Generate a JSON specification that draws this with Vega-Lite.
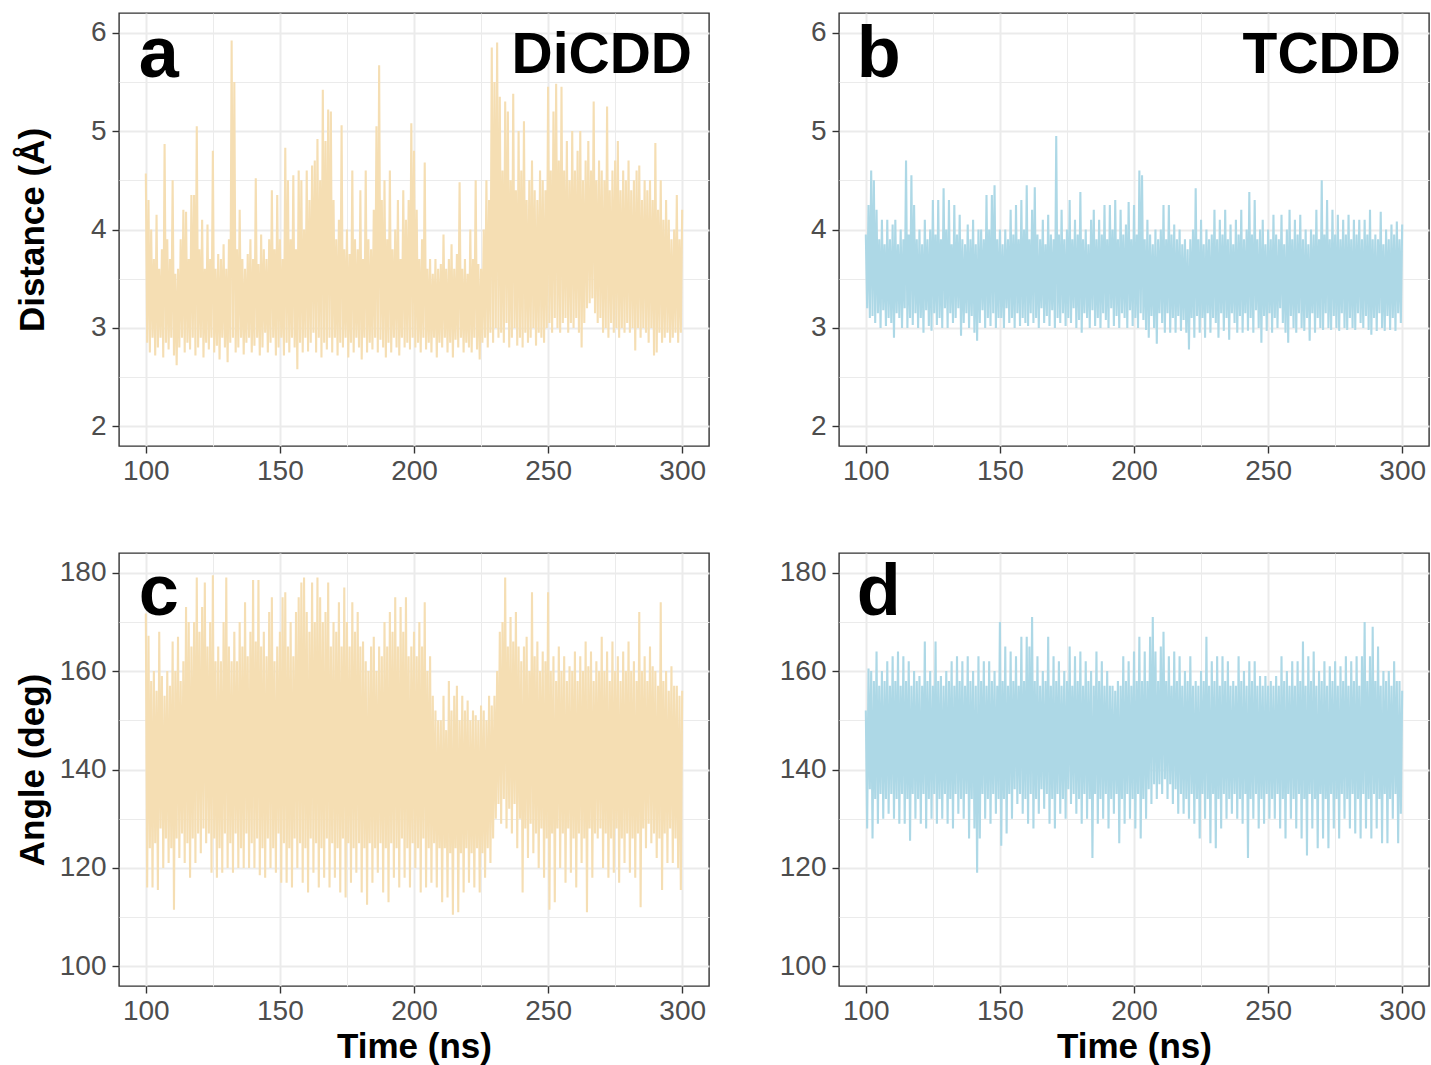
{
"$schema":"https://vega.github.io/schema/vega-lite/v6.json",
"background":"white",
"padding":{"left":14,"top":12,"right":4,"bottom":4},
"data":{"values":[
{"t":100,"a":4.57,"b":3.95,"c":171.7,"d":152},{"t":100.5,"a":2.85,"b":3.2,"c":116,"d":128},
{"t":101,"a":4.3,"b":4.25,"c":167.2,"d":160.5},{"t":101.5,"a":2.75,"b":3.1,"c":124,"d":136},
{"t":102,"a":4.0,"b":4.6,"c":158,"d":160},{"t":102.5,"a":2.9,"b":3.12,"c":116,"d":126},
{"t":103,"a":3.7,"b":4.5,"c":160,"d":158},{"t":103.5,"a":2.72,"b":3.05,"c":125,"d":134},
{"t":104,"a":4.15,"b":4.2,"c":156,"d":164},{"t":104.5,"a":2.8,"b":3.15,"c":115.5,"d":129},
{"t":105,"a":3.6,"b":3.9,"c":168,"d":157},{"t":105.5,"a":2.9,"b":3.0,"c":128,"d":135},
{"t":106,"a":3.8,"b":4.1,"c":159,"d":160},{"t":106.5,"a":2.7,"b":3.18,"c":120,"d":130},
{"t":107,"a":4.87,"b":3.85,"c":155,"d":158},{"t":107.5,"a":2.85,"b":3.02,"c":126,"d":134},
{"t":108,"a":3.9,"b":4.1,"c":160,"d":162},{"t":108.5,"a":2.78,"b":3.1,"c":121,"d":131},
{"t":109,"a":3.7,"b":3.9,"c":157,"d":157},{"t":109.5,"a":2.9,"b":3.05,"c":124,"d":135},
{"t":110,"a":4.5,"b":4.05,"c":166,"d":163},{"t":110.5,"a":2.72,"b":2.9,"c":111.5,"d":130},
{"t":111,"a":3.55,"b":4.1,"c":160,"d":158},{"t":111.5,"a":2.62,"b":3.15,"c":126,"d":134},
{"t":112,"a":3.6,"b":3.85,"c":167,"d":164},{"t":112.5,"a":2.8,"b":3.1,"c":122,"d":129},
{"t":113,"a":3.9,"b":4.0,"c":158,"d":157},{"t":113.5,"a":2.9,"b":3.0,"c":127,"d":135},
{"t":114,"a":4.2,"b":3.9,"c":162,"d":163},{"t":114.5,"a":2.75,"b":3.2,"c":121,"d":129},
{"t":115,"a":4.18,"b":4.7,"c":173,"d":158},{"t":115.5,"a":2.85,"b":3.0,"c":125,"d":134},
{"t":116,"a":3.7,"b":3.95,"c":170,"d":162},{"t":116.5,"a":2.78,"b":3.1,"c":118,"d":125.5},
{"t":117,"a":4.35,"b":4.55,"c":165,"d":157},{"t":117.5,"a":2.9,"b":3.03,"c":126,"d":135},
{"t":118,"a":4.35,"b":4.25,"c":170,"d":160},{"t":118.5,"a":2.72,"b":3.15,"c":121,"d":130},
{"t":119,"a":5.05,"b":3.9,"c":179,"d":158},{"t":119.5,"a":2.8,"b":3.0,"c":127,"d":134},
{"t":120,"a":3.8,"b":4.0,"c":168,"d":159},{"t":120.5,"a":2.9,"b":3.1,"c":123,"d":129},
{"t":121,"a":4.1,"b":3.85,"c":173,"d":157},{"t":121.5,"a":2.7,"b":2.95,"c":128,"d":135},
{"t":122,"a":3.6,"b":4.1,"c":178,"d":166},{"t":122.5,"a":2.85,"b":3.18,"c":125,"d":128},
{"t":123,"a":4.05,"b":3.9,"c":165,"d":158},{"t":123.5,"a":2.78,"b":3.02,"c":127,"d":134},
{"t":124,"a":3.7,"b":4.0,"c":170,"d":160},{"t":124.5,"a":2.9,"b":2.97,"c":119,"d":130},
{"t":125,"a":4.8,"b":4.3,"c":179.5,"d":157},{"t":125.5,"a":2.75,"b":3.15,"c":126,"d":135},
{"t":126,"a":3.6,"b":3.95,"c":162,"d":166},{"t":126.5,"a":2.82,"b":3.03,"c":118,"d":129},
{"t":127,"a":3.75,"b":4.3,"c":165,"d":158},{"t":127.5,"a":2.68,"b":3.1,"c":124,"d":134},
{"t":128,"a":3.7,"b":3.9,"c":162,"d":159},{"t":128.5,"a":2.9,"b":3.0,"c":119,"d":130},
{"t":129,"a":3.85,"b":4.42,"c":170,"d":157},{"t":129.5,"a":2.8,"b":3.2,"c":127,"d":135},
{"t":130,"a":3.6,"b":4.0,"c":179,"d":160},{"t":130.5,"a":2.65,"b":3.0,"c":120,"d":129},
{"t":131,"a":3.9,"b":4.3,"c":165,"d":158},{"t":131.5,"a":2.85,"b":3.15,"c":125,"d":134},
{"t":132,"a":5.92,"b":3.85,"c":162,"d":162},{"t":132.5,"a":2.9,"b":3.05,"c":119,"d":128},
{"t":133,"a":5.5,"b":4.25,"c":168,"d":157},{"t":133.5,"a":2.75,"b":3.1,"c":127,"d":135},
{"t":134,"a":3.8,"b":3.95,"c":162,"d":163},{"t":134.5,"a":2.8,"b":3.2,"c":120,"d":131},
{"t":135,"a":4.2,"b":4.15,"c":170,"d":158},{"t":135.5,"a":2.9,"b":2.92,"c":124,"d":134},
{"t":136,"a":3.7,"b":3.9,"c":165,"d":162},{"t":136.5,"a":2.73,"b":3.05,"c":120,"d":130},
{"t":137,"a":3.6,"b":3.85,"c":174,"d":157},{"t":137.5,"a":2.85,"b":3.15,"c":127,"d":135},
{"t":138,"a":3.75,"b":4.05,"c":163,"d":163},{"t":138.5,"a":2.9,"b":3.0,"c":120,"d":126},
{"t":139,"a":3.9,"b":3.9,"c":168,"d":158},{"t":139.5,"a":2.75,"b":3.12,"c":125,"d":134},
{"t":140,"a":3.7,"b":4.1,"c":178.5,"d":160},{"t":140.5,"a":2.82,"b":2.95,"c":120,"d":128},
{"t":141,"a":4.52,"b":3.85,"c":166,"d":157},{"t":141.5,"a":2.9,"b":2.87,"c":126,"d":119},
{"t":142,"a":3.65,"b":4.0,"c":178.5,"d":163},{"t":142.5,"a":2.72,"b":3.05,"c":118.5,"d":126},
{"t":143,"a":3.95,"b":4.0,"c":165,"d":158},{"t":143.5,"a":2.8,"b":3.18,"c":124,"d":135},
{"t":144,"a":3.8,"b":3.9,"c":168,"d":162},{"t":144.5,"a":2.95,"b":3.0,"c":118,"d":130},
{"t":145,"a":3.7,"b":4.35,"c":163,"d":157},{"t":145.5,"a":2.75,"b":3.1,"c":126,"d":134},
{"t":146,"a":3.9,"b":4.0,"c":172,"d":162},{"t":146.5,"a":2.85,"b":3.02,"c":120,"d":129},
{"t":147,"a":4.4,"b":4.35,"c":175,"d":158},{"t":147.5,"a":2.9,"b":3.15,"c":124,"d":135},
{"t":148,"a":3.8,"b":4.45,"c":162,"d":160},{"t":148.5,"a":2.72,"b":3.0,"c":119,"d":131},
{"t":149,"a":4.35,"b":3.9,"c":165,"d":157},{"t":149.5,"a":2.8,"b":3.1,"c":127,"d":134},
{"t":150,"a":3.9,"b":4.0,"c":168,"d":170},{"t":150.5,"a":2.9,"b":3.1,"c":117,"d":124.5},
{"t":151,"a":3.7,"b":3.85,"c":175,"d":158},{"t":151.5,"a":2.72,"b":3.0,"c":125,"d":134},
{"t":152,"a":4.83,"b":4.0,"c":176,"d":165},{"t":152.5,"a":2.85,"b":3.2,"c":117,"d":127},
{"t":153,"a":4.5,"b":3.9,"c":165,"d":157},{"t":153.5,"a":2.75,"b":3.05,"c":124,"d":135},
{"t":154,"a":3.9,"b":4.2,"c":170,"d":164},{"t":154.5,"a":2.9,"b":3.1,"c":116,"d":130},
{"t":155,"a":4.55,"b":3.95,"c":163,"d":158},{"t":155.5,"a":2.8,"b":3.0,"c":126,"d":136},
{"t":156,"a":3.8,"b":4.25,"c":172,"d":163},{"t":156.5,"a":2.58,"b":3.15,"c":120,"d":133},
{"t":157,"a":4.6,"b":3.9,"c":175,"d":157},{"t":157.5,"a":2.85,"b":3.02,"c":125,"d":135},
{"t":158,"a":4.5,"b":4.3,"c":178,"d":167},{"t":158.5,"a":2.75,"b":3.1,"c":117,"d":131},
{"t":159,"a":4.0,"b":4.0,"c":179,"d":158},{"t":159.5,"a":2.9,"b":3.05,"c":124,"d":134},
{"t":160,"a":4.6,"b":4.45,"c":172,"d":167},{"t":160.5,"a":2.76,"b":3.02,"c":115,"d":129},
{"t":161,"a":4.3,"b":3.9,"c":168,"d":165},{"t":161.5,"a":2.85,"b":3.15,"c":126,"d":135},
{"t":162,"a":4.65,"b":4.2,"c":178,"d":171},{"t":162.5,"a":2.95,"b":3.05,"c":119,"d":128},
{"t":163,"a":4.7,"b":4.43,"c":170,"d":158},{"t":163.5,"a":2.75,"b":3.1,"c":125,"d":134},
{"t":164,"a":4.92,"b":3.95,"c":179,"d":163},{"t":164.5,"a":2.9,"b":3.0,"c":116,"d":131},
{"t":165,"a":4.5,"b":3.9,"c":175,"d":157},{"t":165.5,"a":2.7,"b":3.2,"c":124,"d":136},
{"t":166,"a":5.42,"b":4.1,"c":170,"d":160},{"t":166.5,"a":2.85,"b":3.05,"c":118,"d":132},
{"t":167,"a":4.9,"b":3.85,"c":172,"d":158},{"t":167.5,"a":2.78,"b":3.12,"c":126,"d":135},
{"t":168,"a":5.22,"b":4.15,"c":178,"d":167},{"t":168.5,"a":2.9,"b":3.02,"c":116,"d":129},
{"t":169,"a":5.2,"b":3.95,"c":165,"d":157},{"t":169.5,"a":2.75,"b":3.18,"c":125,"d":134},
{"t":170,"a":4.3,"b":3.9,"c":170,"d":163},{"t":170.5,"a":2.9,"b":3.0,"c":118,"d":128},
{"t":171,"a":3.9,"b":4.95,"c":168,"d":158},{"t":171.5,"a":2.72,"b":3.1,"c":124,"d":135},
{"t":172,"a":4.1,"b":3.95,"c":174,"d":162},{"t":172.5,"a":2.85,"b":3.05,"c":115,"d":131},
{"t":173,"a":5.06,"b":4.2,"c":165,"d":157},{"t":173.5,"a":2.8,"b":3.15,"c":126,"d":134},
{"t":174,"a":3.8,"b":3.9,"c":177,"d":160},{"t":174.5,"a":2.9,"b":3.02,"c":114,"d":130},
{"t":175,"a":4.0,"b":4.0,"c":170,"d":158},{"t":175.5,"a":2.7,"b":3.1,"c":125,"d":136},
{"t":176,"a":3.75,"b":4.3,"c":165,"d":165},{"t":176.5,"a":2.85,"b":3.05,"c":117,"d":133},
{"t":177,"a":4.6,"b":3.9,"c":174,"d":157},{"t":177.5,"a":2.75,"b":3.2,"c":124,"d":135},
{"t":178,"a":3.9,"b":4.1,"c":168,"d":163},{"t":178.5,"a":2.9,"b":3.0,"c":119,"d":131},
{"t":179,"a":3.8,"b":3.95,"c":172,"d":158},{"t":179.5,"a":2.8,"b":3.08,"c":125,"d":134},
{"t":180,"a":4.4,"b":4.38,"c":165,"d":164},{"t":180.5,"a":2.68,"b":2.95,"c":115,"d":129},
{"t":181,"a":3.7,"b":3.9,"c":166,"d":157},{"t":181.5,"a":2.9,"b":3.15,"c":124,"d":135},
{"t":182,"a":4.6,"b":4.0,"c":162,"d":162},{"t":182.5,"a":2.75,"b":3.1,"c":112.5,"d":130},
{"t":183,"a":3.9,"b":3.85,"c":160,"d":158},{"t":183.5,"a":2.85,"b":3.0,"c":125,"d":134},
{"t":184,"a":3.8,"b":4.1,"c":165,"d":160},{"t":184.5,"a":2.78,"b":3.18,"c":117,"d":122},
{"t":185,"a":4.2,"b":4.2,"c":167,"d":157},{"t":185.5,"a":2.9,"b":3.02,"c":124,"d":135},
{"t":186,"a":5.05,"b":3.9,"c":160,"d":164},{"t":186.5,"a":2.75,"b":3.1,"c":119,"d":129},
{"t":187,"a":5.67,"b":4.1,"c":165,"d":158},{"t":187.5,"a":2.88,"b":3.0,"c":125,"d":134},
{"t":188,"a":4.3,"b":3.95,"c":163,"d":162},{"t":188.5,"a":2.8,"b":3.15,"c":115,"d":130},
{"t":189,"a":4.5,"b":4.25,"c":170,"d":157},{"t":189.5,"a":2.7,"b":3.08,"c":124,"d":135},
{"t":190,"a":3.9,"b":3.9,"c":165,"d":160},{"t":190.5,"a":2.85,"b":3.0,"c":113,"d":128},
{"t":191,"a":4.6,"b":4.25,"c":172,"d":157},{"t":191.5,"a":2.75,"b":3.2,"c":125,"d":134},
{"t":192,"a":3.8,"b":4.0,"c":168,"d":157},{"t":192.5,"a":2.9,"b":3.02,"c":118,"d":131},
{"t":193,"a":4.0,"b":4.3,"c":175,"d":156},{"t":193.5,"a":2.8,"b":3.12,"c":124,"d":135},
{"t":194,"a":4.3,"b":3.9,"c":165,"d":158},{"t":194.5,"a":2.72,"b":3.0,"c":116,"d":125},
{"t":195,"a":3.7,"b":4.2,"c":173,"d":157},{"t":195.5,"a":2.9,"b":3.15,"c":126,"d":134},
{"t":196,"a":4.4,"b":3.95,"c":168,"d":163},{"t":196.5,"a":2.8,"b":3.1,"c":118,"d":129},
{"t":197,"a":4.1,"b":4.05,"c":175,"d":158},{"t":197.5,"a":2.85,"b":3.0,"c":124,"d":135},
{"t":198,"a":4.3,"b":4.28,"c":163,"d":162},{"t":198.5,"a":2.78,"b":3.18,"c":116,"d":130},
{"t":199,"a":5.08,"b":3.9,"c":165,"d":157},{"t":199.5,"a":2.9,"b":3.02,"c":125,"d":134},
{"t":200,"a":4.8,"b":4.25,"c":168,"d":164},{"t":200.5,"a":2.8,"b":3.1,"c":120,"d":128},
{"t":201,"a":4.2,"b":3.95,"c":163,"d":158},{"t":201.5,"a":2.85,"b":3.0,"c":124,"d":135},
{"t":202,"a":3.7,"b":4.6,"c":170,"d":167},{"t":202.5,"a":2.75,"b":3.15,"c":115,"d":126},
{"t":203,"a":3.9,"b":4.55,"c":165,"d":158},{"t":203.5,"a":2.9,"b":3.08,"c":126,"d":134},
{"t":204,"a":4.68,"b":3.9,"c":174,"d":164},{"t":204.5,"a":2.78,"b":2.98,"c":116,"d":130},
{"t":205,"a":3.6,"b":4.1,"c":160,"d":158},{"t":205.5,"a":2.85,"b":2.9,"c":124,"d":136},
{"t":206,"a":3.7,"b":3.95,"c":163,"d":167},{"t":206.5,"a":2.75,"b":3.12,"c":117,"d":133},
{"t":207,"a":3.55,"b":3.85,"c":155,"d":171},{"t":207.5,"a":2.9,"b":3.0,"c":125,"d":137},
{"t":208,"a":3.7,"b":4.0,"c":152,"d":164},{"t":208.5,"a":2.7,"b":2.84,"c":116,"d":134},
{"t":209,"a":3.6,"b":3.9,"c":150,"d":158},{"t":209.5,"a":2.85,"b":3.15,"c":124,"d":137},
{"t":210,"a":3.65,"b":4.0,"c":150,"d":165},{"t":210.5,"a":2.8,"b":3.05,"c":113,"d":135},
{"t":211,"a":3.95,"b":4.25,"c":155,"d":168},{"t":211.5,"a":2.9,"b":2.95,"c":124,"d":138},
{"t":212,"a":3.6,"b":3.9,"c":148,"d":158},{"t":212.5,"a":2.75,"b":3.15,"c":114,"d":134},
{"t":213,"a":3.7,"b":4.25,"c":158,"d":163},{"t":213.5,"a":2.85,"b":2.95,"c":123,"d":137},
{"t":214,"a":3.85,"b":3.95,"c":152,"d":157},{"t":214.5,"a":2.7,"b":3.1,"c":110.5,"d":133},
{"t":215,"a":3.6,"b":4.05,"c":155,"d":164},{"t":215.5,"a":2.88,"b":2.95,"c":124,"d":136},
{"t":216,"a":3.75,"b":3.9,"c":157,"d":158},{"t":216.5,"a":2.8,"b":3.12,"c":111,"d":131},
{"t":217,"a":4.48,"b":4.0,"c":150,"d":163},{"t":217.5,"a":2.9,"b":2.97,"c":123,"d":135},
{"t":218,"a":3.6,"b":3.85,"c":155,"d":157},{"t":218.5,"a":2.75,"b":3.08,"c":115,"d":131},
{"t":219,"a":3.7,"b":3.9,"c":152,"d":160},{"t":219.5,"a":2.85,"b":2.95,"c":124,"d":134},
{"t":220,"a":3.55,"b":3.8,"c":154,"d":158},{"t":220.5,"a":2.8,"b":2.78,"c":117,"d":130},
{"t":221,"a":4.0,"b":3.9,"c":150,"d":163},{"t":221.5,"a":2.75,"b":3.1,"c":123,"d":135},
{"t":222,"a":3.7,"b":4.0,"c":152,"d":157},{"t":222.5,"a":2.9,"b":2.9,"c":116,"d":129},
{"t":223,"a":4.5,"b":4.42,"c":151,"d":158},{"t":223.5,"a":2.78,"b":3.12,"c":124,"d":134},
{"t":224,"a":3.65,"b":3.9,"c":150,"d":157},{"t":224.5,"a":2.68,"b":2.95,"c":115,"d":126},
{"t":225,"a":3.6,"b":4.1,"c":153,"d":160},{"t":225.5,"a":2.85,"b":3.1,"c":123,"d":135},
{"t":226,"a":4.0,"b":3.85,"c":152,"d":158},{"t":226.5,"a":2.9,"b":2.9,"c":118,"d":130},
{"t":227,"a":4.5,"b":4.0,"c":150,"d":167},{"t":227.5,"a":2.8,"b":3.15,"c":124,"d":134},
{"t":228,"a":4.3,"b":3.9,"c":155,"d":157},{"t":228.5,"a":2.95,"b":2.95,"c":121,"d":125},
{"t":229,"a":5.85,"b":3.95,"c":153,"d":162},{"t":229.5,"a":2.85,"b":3.1,"c":126,"d":135},
{"t":230,"a":5.5,"b":4.2,"c":155,"d":158},{"t":230.5,"a":3.0,"b":3.05,"c":130,"d":124},
{"t":231,"a":5.9,"b":3.9,"c":160,"d":163},{"t":231.5,"a":2.9,"b":2.9,"c":133,"d":134},
{"t":232,"a":5.35,"b":4.1,"c":168,"d":157},{"t":232.5,"a":2.95,"b":3.15,"c":129,"d":128},
{"t":233,"a":4.6,"b":3.95,"c":170,"d":163},{"t":233.5,"a":2.85,"b":2.97,"c":134,"d":135},
{"t":234,"a":5.3,"b":4.2,"c":179,"d":158},{"t":234.5,"a":3.05,"b":3.1,"c":128,"d":130},
{"t":235,"a":5.2,"b":3.9,"c":165,"d":162},{"t":235.5,"a":2.8,"b":2.88,"c":132,"d":134},
{"t":236,"a":4.5,"b":4.05,"c":171,"d":157},{"t":236.5,"a":2.9,"b":3.15,"c":127,"d":131},
{"t":237,"a":5.38,"b":3.85,"c":166,"d":158},{"t":237.5,"a":3.0,"b":3.05,"c":133,"d":135},
{"t":238,"a":4.4,"b":4.1,"c":172,"d":157},{"t":238.5,"a":2.82,"b":2.95,"c":124,"d":130},
{"t":239,"a":5.0,"b":3.95,"c":165,"d":163},{"t":239.5,"a":2.9,"b":3.12,"c":130,"d":134},
{"t":240,"a":4.6,"b":4.2,"c":162,"d":158},{"t":240.5,"a":2.8,"b":2.95,"c":115,"d":129},
{"t":241,"a":5.1,"b":3.9,"c":165,"d":160},{"t":241.5,"a":2.95,"b":3.15,"c":128,"d":135},
{"t":242,"a":4.3,"b":4.0,"c":167,"d":157},{"t":242.5,"a":2.85,"b":2.97,"c":122,"d":122},
{"t":243,"a":4.5,"b":4.38,"c":160,"d":162},{"t":243.5,"a":2.9,"b":3.1,"c":129,"d":134},
{"t":244,"a":4.7,"b":3.95,"c":176,"d":158},{"t":244.5,"a":3.0,"b":2.95,"c":123,"d":130},
{"t":245,"a":4.4,"b":4.3,"c":163,"d":162},{"t":245.5,"a":2.82,"b":3.18,"c":127,"d":135},
{"t":246,"a":4.3,"b":3.9,"c":166,"d":157},{"t":246.5,"a":2.95,"b":3.0,"c":120,"d":128},
{"t":247,"a":4.6,"b":4.0,"c":160,"d":159},{"t":247.5,"a":2.9,"b":2.85,"c":128,"d":134},
{"t":248,"a":4.5,"b":4.1,"c":164,"d":157},{"t":248.5,"a":2.85,"b":3.12,"c":118,"d":129},
{"t":249,"a":4.4,"b":3.85,"c":162,"d":159},{"t":249.5,"a":3.0,"b":2.97,"c":126,"d":135},
{"t":250,"a":5.45,"b":4.0,"c":176,"d":157},{"t":250.5,"a":3.05,"b":3.15,"c":111.5,"d":130},
{"t":251,"a":4.6,"b":3.9,"c":160,"d":158},{"t":251.5,"a":2.95,"b":2.95,"c":127,"d":134},
{"t":252,"a":5.2,"b":4.15,"c":163,"d":157},{"t":252.5,"a":3.1,"b":3.1,"c":113,"d":130},
{"t":253,"a":5.48,"b":3.95,"c":158,"d":159},{"t":253.5,"a":3.0,"b":3.0,"c":128,"d":135},
{"t":254,"a":4.7,"b":3.9,"c":165,"d":157},{"t":254.5,"a":2.95,"b":3.2,"c":120,"d":128},
{"t":255,"a":5.45,"b":4.15,"c":160,"d":163},{"t":255.5,"a":3.05,"b":3.05,"c":127,"d":134},
{"t":256,"a":4.6,"b":3.85,"c":163,"d":158},{"t":256.5,"a":3.1,"b":2.95,"c":117,"d":126},
{"t":257,"a":4.9,"b":4.0,"c":158,"d":160},{"t":257.5,"a":2.95,"b":2.85,"c":128,"d":135},
{"t":258,"a":4.5,"b":4.2,"c":161,"d":157},{"t":258.5,"a":3.05,"b":3.12,"c":119,"d":130},
{"t":259,"a":5.0,"b":3.9,"c":160,"d":162},{"t":259.5,"a":3.0,"b":3.0,"c":126,"d":134},
{"t":260,"a":4.6,"b":4.1,"c":164,"d":157},{"t":260.5,"a":3.1,"b":2.95,"c":116,"d":128},
{"t":261,"a":4.8,"b":3.95,"c":158,"d":162},{"t":261.5,"a":2.95,"b":3.15,"c":127,"d":135},
{"t":262,"a":5.0,"b":4.15,"c":163,"d":158},{"t":262.5,"a":2.8,"b":3.0,"c":121,"d":126},
{"t":263,"a":4.5,"b":3.9,"c":160,"d":166},{"t":263.5,"a":3.05,"b":2.97,"c":126,"d":134},
{"t":264,"a":4.7,"b":4.0,"c":166,"d":157},{"t":264.5,"a":3.2,"b":3.1,"c":111,"d":122.5},
{"t":265,"a":4.9,"b":3.85,"c":161,"d":163},{"t":265.5,"a":3.25,"b":2.87,"c":128,"d":135},
{"t":266,"a":4.6,"b":4.0,"c":164,"d":158},{"t":266.5,"a":3.3,"b":3.15,"c":118,"d":128},
{"t":267,"a":5.3,"b":3.95,"c":158,"d":164},{"t":267.5,"a":3.15,"b":2.95,"c":127,"d":134},
{"t":268,"a":4.5,"b":4.2,"c":162,"d":157},{"t":268.5,"a":3.05,"b":3.1,"c":126,"d":124},
{"t":269,"a":4.7,"b":3.9,"c":160,"d":160},{"t":269.5,"a":3.1,"b":3.0,"c":128,"d":135},
{"t":270,"a":4.6,"b":4.5,"c":167,"d":158},{"t":270.5,"a":2.95,"b":2.98,"c":120,"d":126},
{"t":271,"a":4.5,"b":3.95,"c":160,"d":162},{"t":271.5,"a":3.0,"b":3.15,"c":127,"d":134},
{"t":272,"a":5.25,"b":4.3,"c":164,"d":157},{"t":272.5,"a":2.9,"b":3.0,"c":118,"d":124},
{"t":273,"a":4.4,"b":3.9,"c":158,"d":161},{"t":273.5,"a":3.05,"b":2.98,"c":126,"d":135},
{"t":274,"a":4.6,"b":4.2,"c":166,"d":158},{"t":274.5,"a":2.95,"b":3.12,"c":119,"d":128},
{"t":275,"a":4.7,"b":3.95,"c":160,"d":162},{"t":275.5,"a":3.0,"b":3.0,"c":128,"d":134},
{"t":276,"a":4.9,"b":4.15,"c":163,"d":157},{"t":276.5,"a":2.9,"b":2.97,"c":117,"d":126},
{"t":277,"a":4.4,"b":3.9,"c":158,"d":161},{"t":277.5,"a":3.0,"b":3.15,"c":126,"d":135},
{"t":278,"a":4.6,"b":4.1,"c":164,"d":158},{"t":278.5,"a":2.95,"b":3.0,"c":121,"d":130},
{"t":279,"a":4.5,"b":3.95,"c":160,"d":163},{"t":279.5,"a":3.05,"b":2.98,"c":127,"d":134},
{"t":280,"a":4.7,"b":4.15,"c":166,"d":157},{"t":280.5,"a":2.95,"b":3.1,"c":119,"d":128},
{"t":281,"a":4.4,"b":3.9,"c":160,"d":162},{"t":281.5,"a":3.0,"b":3.0,"c":126,"d":135},
{"t":282,"a":4.5,"b":4.1,"c":162,"d":158},{"t":282.5,"a":2.77,"b":2.98,"c":118,"d":127},
{"t":283,"a":4.6,"b":3.95,"c":158,"d":163},{"t":283.5,"a":3.0,"b":3.15,"c":127,"d":134},
{"t":284,"a":4.65,"b":4.1,"c":172,"d":157},{"t":284.5,"a":2.9,"b":3.05,"c":112,"d":126},
{"t":285,"a":4.3,"b":3.9,"c":160,"d":163},{"t":285.5,"a":3.0,"b":3.0,"c":128,"d":135},
{"t":286,"a":4.5,"b":4.1,"c":163,"d":170},{"t":286.5,"a":2.95,"b":3.12,"c":124,"d":128},
{"t":287,"a":4.4,"b":3.95,"c":158,"d":158},{"t":287.5,"a":2.85,"b":2.98,"c":129,"d":134},
{"t":288,"a":4.5,"b":4.2,"c":165,"d":163},{"t":288.5,"a":3.0,"b":2.93,"c":125,"d":126},
{"t":289,"a":4.3,"b":3.9,"c":161,"d":169},{"t":289.5,"a":2.72,"b":3.1,"c":127,"d":135},
{"t":290,"a":4.88,"b":3.95,"c":160,"d":158},{"t":290.5,"a":2.75,"b":2.97,"c":122,"d":128},
{"t":291,"a":4.2,"b":3.9,"c":157,"d":165},{"t":291.5,"a":2.95,"b":3.15,"c":126,"d":134},
{"t":292,"a":4.5,"b":4.18,"c":174,"d":157},{"t":292.5,"a":2.85,"b":3.0,"c":115.5,"d":125},
{"t":293,"a":4.1,"b":3.85,"c":158,"d":160},{"t":293.5,"a":2.9,"b":2.97,"c":127,"d":135},
{"t":294,"a":4.3,"b":4.0,"c":160,"d":158},{"t":294.5,"a":2.95,"b":3.12,"c":121,"d":125},
{"t":295,"a":4.1,"b":3.9,"c":156,"d":160},{"t":295.5,"a":2.85,"b":2.98,"c":128,"d":134},
{"t":296,"a":3.9,"b":4.05,"c":161,"d":157},{"t":296.5,"a":2.9,"b":3.1,"c":121,"d":130},
{"t":297,"a":4.0,"b":3.95,"c":157,"d":162},{"t":297.5,"a":2.95,"b":2.97,"c":126,"d":135},
{"t":298,"a":4.35,"b":4.08,"c":157,"d":158},{"t":298.5,"a":2.85,"b":3.15,"c":120,"d":125},
{"t":299,"a":3.9,"b":3.9,"c":155,"d":158},{"t":299.5,"a":2.95,"b":3.05,"c":115.5,"d":131},
{"t":300,"a":4.2,"b":4.05,"c":156,"d":156}
]},
"columns":2,
"spacing":{"row":107,"column":130},
"bounds":"flush",
"concat":[
{"width":590,"height":433,
 "layer":[
  {"mark":{"type":"line","color":"#F5DEB3","strokeWidth":2.1},
   "encoding":{
    "x":{"field":"t","type":"quantitative","scale":{"domain":[90,310],"nice":false,"zero":false},
     "axis":{"values":[100,125,150,175,200,225,250,275,300],"title":null,"labelExpr":"datum.value % 50 === 0 ? datum.label : ''","tickOpacity":{"condition":{"test":"datum.value % 50 === 0","value":1},"value":0},"gridWidth":{"condition":{"test":"datum.value % 50 === 0","value":2},"value":1}}},
    "y":{"field":"a","type":"quantitative","scale":{"domain":[1.8,6.2],"nice":false,"zero":false},
     "axis":{"values":[2,2.5,3,3.5,4,4.5,5,5.5,6],"title":"Distance (Å)","titleX":-76,"titleY":216.5,"titleAngle":-90,"titleBaseline":"alphabetic","titleAlign":"center","labelExpr":"datum.value % 1 === 0 ? format(datum.value, 'd') : ''","tickOpacity":{"condition":{"test":"datum.value % 1 === 0","value":1},"value":0},"gridWidth":{"condition":{"test":"datum.value % 1 === 0","value":2},"value":1}}}}},
  {"data":{"values":[{"lab":"a"}]},"mark":{"type":"text","font":"Liberation Sans","fontWeight":"bold","fontSize":72,"color":"#000000","align":"center","baseline":"alphabetic"},
   "encoding":{"x":{"datum":104.8,"type":"quantitative"},"y":{"datum":5.55,"type":"quantitative"},"text":{"field":"lab"}}},
  {"data":{"values":[{"lab":"DiCDD"}]},"mark":{"type":"text","font":"Liberation Sans","fontWeight":"bold","fontSize":57,"color":"#000000","align":"center","baseline":"alphabetic"},
   "encoding":{"x":{"datum":270,"type":"quantitative"},"y":{"datum":5.595,"type":"quantitative"},"text":{"field":"lab"}}}
 ]},
{"width":590,"height":433,
 "layer":[
  {"mark":{"type":"line","color":"#ADD8E6","strokeWidth":2.1},
   "encoding":{
    "x":{"field":"t","type":"quantitative","scale":{"domain":[90,310],"nice":false,"zero":false},
     "axis":{"values":[100,125,150,175,200,225,250,275,300],"title":null,"labelExpr":"datum.value % 50 === 0 ? datum.label : ''","tickOpacity":{"condition":{"test":"datum.value % 50 === 0","value":1},"value":0},"gridWidth":{"condition":{"test":"datum.value % 50 === 0","value":2},"value":1}}},
    "y":{"field":"b","type":"quantitative","scale":{"domain":[1.8,6.2],"nice":false,"zero":false},
     "axis":{"values":[2,2.5,3,3.5,4,4.5,5,5.5,6],"title":null,"labelExpr":"datum.value % 1 === 0 ? format(datum.value, 'd') : ''","tickOpacity":{"condition":{"test":"datum.value % 1 === 0","value":1},"value":0},"gridWidth":{"condition":{"test":"datum.value % 1 === 0","value":2},"value":1}}}}},
  {"data":{"values":[{"lab":"b"}]},"mark":{"type":"text","font":"Liberation Sans","fontWeight":"bold","fontSize":72,"color":"#000000","align":"center","baseline":"alphabetic"},
   "encoding":{"x":{"datum":104.8,"type":"quantitative"},"y":{"datum":5.55,"type":"quantitative"},"text":{"field":"lab"}}},
  {"data":{"values":[{"lab":"TCDD"}]},"mark":{"type":"text","font":"Liberation Sans","fontWeight":"bold","fontSize":57,"color":"#000000","align":"center","baseline":"alphabetic"},
   "encoding":{"x":{"datum":270,"type":"quantitative"},"y":{"datum":5.595,"type":"quantitative"},"text":{"field":"lab"}}}
 ]},
{"width":590,"height":433,
 "layer":[
  {"mark":{"type":"line","color":"#F5DEB3","strokeWidth":2.1},
   "encoding":{
    "x":{"field":"t","type":"quantitative","scale":{"domain":[90,310],"nice":false,"zero":false},
     "axis":{"values":[100,125,150,175,200,225,250,275,300],"title":"Time (ns)","titleX":295,"titleY":71,"titleBaseline":"alphabetic","titleAlign":"center","labelExpr":"datum.value % 50 === 0 ? datum.label : ''","tickOpacity":{"condition":{"test":"datum.value % 50 === 0","value":1},"value":0},"gridWidth":{"condition":{"test":"datum.value % 50 === 0","value":2},"value":1}}},
    "y":{"field":"c","type":"quantitative","scale":{"domain":[96,184],"nice":false,"zero":false},
     "axis":{"values":[100,110,120,130,140,150,160,170,180],"title":"Angle (deg)","titleX":-76,"titleY":216.5,"titleAngle":-90,"titleBaseline":"alphabetic","titleAlign":"center","labelExpr":"datum.value % 20 === 0 ? datum.label : ''","tickOpacity":{"condition":{"test":"datum.value % 20 === 0","value":1},"value":0},"gridWidth":{"condition":{"test":"datum.value % 20 === 0","value":2},"value":1}}}}},
  {"data":{"values":[{"lab":"c"}]},"mark":{"type":"text","font":"Liberation Sans","fontWeight":"bold","fontSize":72,"color":"#000000","align":"center","baseline":"alphabetic"},
   "encoding":{"x":{"datum":104.8,"type":"quantitative"},"y":{"datum":171.5,"type":"quantitative"},"text":{"field":"lab"}}}
 ]},
{"width":590,"height":433,
 "layer":[
  {"mark":{"type":"line","color":"#ADD8E6","strokeWidth":2.1},
   "encoding":{
    "x":{"field":"t","type":"quantitative","scale":{"domain":[90,310],"nice":false,"zero":false},
     "axis":{"values":[100,125,150,175,200,225,250,275,300],"title":"Time (ns)","titleX":295,"titleY":71,"titleBaseline":"alphabetic","titleAlign":"center","labelExpr":"datum.value % 50 === 0 ? datum.label : ''","tickOpacity":{"condition":{"test":"datum.value % 50 === 0","value":1},"value":0},"gridWidth":{"condition":{"test":"datum.value % 50 === 0","value":2},"value":1}}},
    "y":{"field":"d","type":"quantitative","scale":{"domain":[96,184],"nice":false,"zero":false},
     "axis":{"values":[100,110,120,130,140,150,160,170,180],"title":null,"labelExpr":"datum.value % 20 === 0 ? datum.label : ''","tickOpacity":{"condition":{"test":"datum.value % 20 === 0","value":1},"value":0},"gridWidth":{"condition":{"test":"datum.value % 20 === 0","value":2},"value":1}}}}},
  {"data":{"values":[{"lab":"d"}]},"mark":{"type":"text","font":"Liberation Sans","fontWeight":"bold","fontSize":72,"color":"#000000","align":"center","baseline":"alphabetic"},
   "encoding":{"x":{"datum":104.8,"type":"quantitative"},"y":{"datum":171.5,"type":"quantitative"},"text":{"field":"lab"}}}
 ]}
],
"config":{
 "view":{"stroke":"#333333","strokeWidth":1.4},
 "axis":{"domain":false,"tickColor":"#333333","tickWidth":1.4,"tickSize":7,"gridColor":"#EBEBEB","labelFont":"Liberation Sans","labelFontSize":28,"labelColor":"#4D4D4D","labelOverlap":false,"labelFlush":false,"labelBound":false,"titleFont":"Liberation Sans","titleFontSize":35,"titleFontWeight":"bold","titleColor":"#000000"},
 "axisX":{"labelPadding":4},
 "axisY":{"labelPadding":6}
}
}
